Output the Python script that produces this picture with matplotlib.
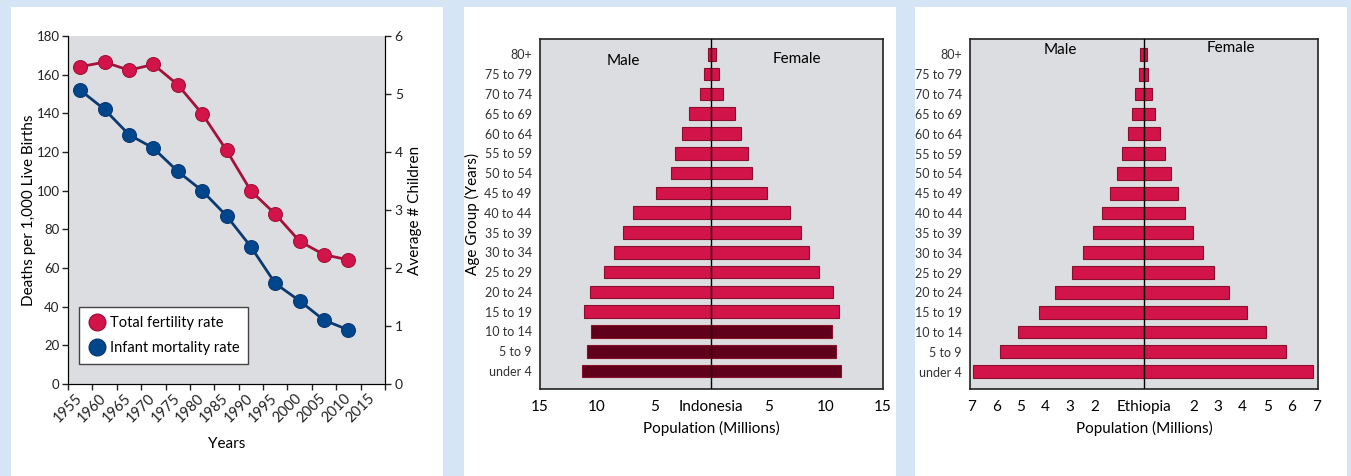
import matplotlib
matplotlib.use('Agg')
import matplotlib.pyplot as plt
from matplotlib.patches import Rectangle

plt.rcParams['font.family'] = ['Lato', 'DejaVu Sans']

# ---- data ----
years = [1957.5, 1962.5, 1967.5, 1972.5, 1977.5, 1982.5, 1987.5, 1992.5,
         1997.5, 2002.5, 2007.5, 2012.5]
fertility = [5.47, 5.55, 5.41, 5.51, 5.16, 4.66, 4.03, 3.33, 2.93, 2.46, 2.23, 2.14]
infant = [152, 142, 129, 122, 110, 100, 87, 71, 52, 43, 33, 28]
year_ticks = list(range(1955, 2025, 5))
year_labels = [str(y) for y in range(1955, 2020, 5)] + ['']

ages = ['under 4', '5 to 9', '10 to 14', '15 to 19', '20 to 24', '25 to 29',
        '30 to 34', '35 to 39', '40 to 44', '45 to 49', '50 to 54', '55 to 59',
        '60 to 64', '65 to 69', '70 to 74', '75 to 79', '80+']
indo_male = [11.35, 10.88, 10.5, 11.15, 10.6, 9.4, 8.52, 7.77, 6.86, 4.86,
             3.52, 3.2, 2.57, 2.0, 0.95, 0.62, 0.33]
indo_female = [11.37, 10.91, 10.53, 11.17, 10.64, 9.42, 8.57, 7.81, 6.9, 4.88,
               3.54, 3.25, 2.63, 2.05, 0.99, 0.64, 0.38]
eth_male = [6.95, 5.86, 5.11, 4.27, 3.63, 2.94, 2.46, 2.06, 1.71, 1.37,
            1.1, 0.89, 0.65, 0.5, 0.35, 0.22, 0.16]
eth_female = [6.87, 5.77, 4.97, 4.17, 3.45, 2.84, 2.38, 1.98, 1.67, 1.36,
              1.08, 0.86, 0.66, 0.46, 0.31, 0.16, 0.12]
indo_ticks = [-15, -10, -5, 0, 5, 10, 15]
indo_labels = ['15', '10', '5', 'Indonesia', '5', '10', '15']
eth_ticks = [-7, -6, -5, -4, -3, -2, 0, 2, 3, 4, 5, 6, 7]
eth_labels = ['7', '6', '5', '4', '3', '2', 'Ethiopia', '2', '3', '4', '5', '6', '7']

BG = '#d5e5f5'
GREY = '#dcdde0'
RED = '#d2144a'
RED_LINE = '#a3123a'
BLUE = '#00468c'
BLUE_LINE = '#0b3a72'
DARK = '#60001a'

W, H = 1351, 476
fig = plt.figure(figsize=(W / 100, H / 100), dpi=100)
fig.patch.set_facecolor(BG)


def px(x0, y0, x1, y1):
    # pixel box (top-left origin) -> figure fraction rect
    return [x0 / W, (H - y1) / H, (x1 - x0) / W, (y1 - y0) / H]


for x0, x1 in [(11, 443), (464, 896), (915, 1347)]:
    fig.patches.append(Rectangle((x0 / W, 0), (x1 - x0) / W, (H - 7) / H,
                                 transform=fig.transFigure, facecolor='white',
                                 edgecolor='none', zorder=-10))

# ---- left: fertility / infant mortality ----
ax = fig.add_axes(px(68, 36, 385, 384))
ax.set_facecolor(GREY)
ax.plot(years, infant, color=BLUE_LINE, lw=2, marker='o', ms=10,
        mfc=BLUE, mec=BLUE_LINE, mew=0.8, zorder=3)
ax.set_xlim(1955, 2020)
ax.set_ylim(0, 180)
ax.set_yticks(range(0, 181, 20))
ax.set_xticks(year_ticks)
ax.set_xticklabels(year_labels, rotation=45, ha='center')
ax.spines['top'].set_visible(False)
ax.tick_params(direction='out', length=4, width=1, labelsize=9.5, colors='#222222', pad=2)
ax.tick_params(axis='x', pad=1, labelsize=10.5)
ax.set_ylabel('Deaths per 1,000 Live Births', fontsize=11)
ax.yaxis.set_label_coords(-0.1, 0.5)
ax.set_xlabel('Years', fontsize=11, labelpad=9)

ax2 = ax.twinx()
ax2.plot(years, fertility, color=RED_LINE, lw=2, marker='o', ms=10,
         mfc=RED, mec=RED_LINE, mew=0.8, zorder=3)
ax2.set_ylim(0, 6)
ax2.spines['top'].set_visible(False)
ax2.tick_params(direction='out', length=4, width=1, labelsize=10, colors='#222222', pad=3)
ax2.set_ylabel('Average # Children', fontsize=11, labelpad=4)

h1 = plt.Line2D([], [], ls='none', marker='o', ms=12, mfc=RED, mec=RED_LINE)
h2 = plt.Line2D([], [], ls='none', marker='o', ms=12, mfc=BLUE, mec=BLUE_LINE)
leg = ax2.legend([h1, h2], ['Total fertility rate', 'Infant mortality rate'],
                 loc='lower left', bbox_to_anchor=(0.035, 0.057), borderaxespad=0,
                 fontsize=10.5, fancybox=False, framealpha=1, handletextpad=0.3,
                 borderpad=0.6, labelspacing=0.8, handlelength=1.2)
leg.get_frame().set_edgecolor('#444444')
leg.get_frame().set_linewidth(1)


# ---- pyramids ----
def pyramid(rect, male, female, colors, xlim, ticks, labels, ylabel, male_xy, female_xy):
    a = fig.add_axes(px(*rect))
    a.set_facecolor(GREY)
    pos = range(len(ages))
    a.barh(pos, [-m for m in male], height=0.64, color=colors, edgecolor='#8a0f2c', lw=0.8, zorder=2)
    a.barh(pos, female, height=0.64, color=colors, edgecolor='#8a0f2c', lw=0.8, zorder=2)
    a.axvline(0, color='black', lw=1, zorder=3)
    a.set_xlim(-xlim, xlim)
    a.set_ylim(-0.89, 16.76)
    a.set_yticks(list(pos))
    a.set_yticklabels(ages)
    a.set_xticks(ticks)
    a.set_xticklabels(labels)
    a.tick_params(axis='y', length=0, labelsize=9, colors='#333333', pad=6)
    a.tick_params(axis='x', length=0, labelsize=11, pad=8)
    for s in a.spines.values():
        s.set_linewidth(1.2)
        s.set_color('#222222')
    a.set_xlabel('Population (Millions)', fontsize=11, labelpad=5)
    if ylabel:
        a.set_ylabel(ylabel, fontsize=11)
        a.yaxis.set_label_coords(-0.175, 0.5)
    a.text(male_xy[0], male_xy[1], 'Male', fontsize=11, ha='center', va='center', transform=a.transAxes)
    a.text(female_xy[0], female_xy[1], 'Female', fontsize=11, ha='center', va='center', transform=a.transAxes)
    return a


indo_colors = [DARK] * 3 + [RED] * 14
pyramid((540, 39.3, 882.7, 388.7), indo_male, indo_female, indo_colors, 15,
        indo_ticks, indo_labels, 'Age Group (Years)', (0.243, 0.938), (0.75, 0.943))
pyramid((970.3, 39.3, 1317.7, 389.3), eth_male, eth_female, [RED] * 17, 7.05,
        eth_ticks, eth_labels, None, (0.258, 0.97), (0.75, 0.975))

fig.savefig('out.png', dpi=100, facecolor=BG)
